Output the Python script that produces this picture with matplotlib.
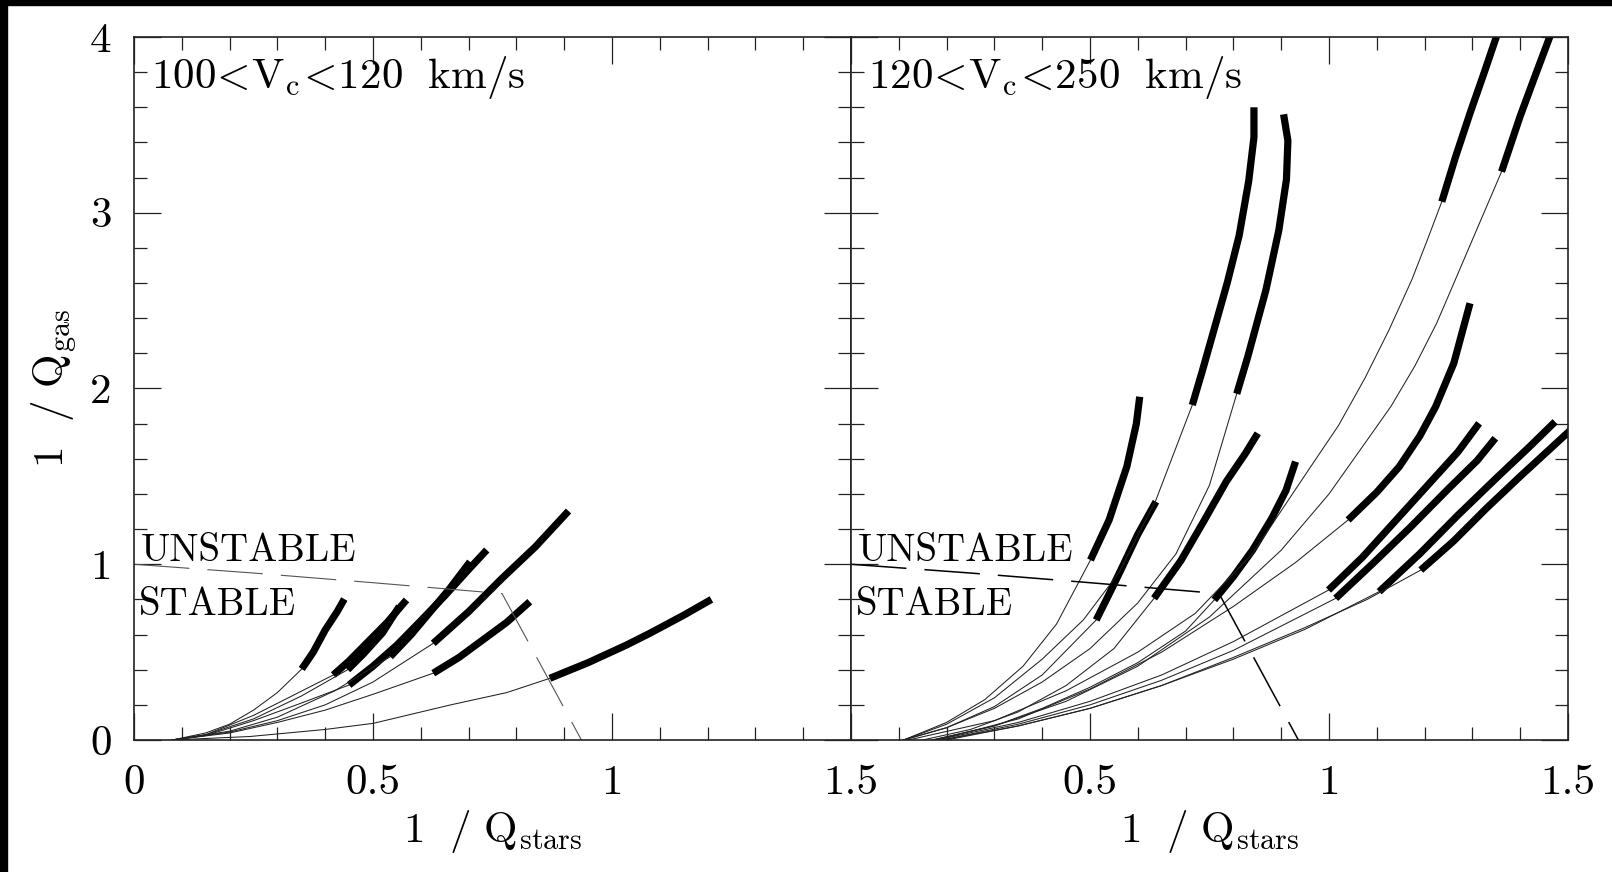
import matplotlib
matplotlib.use('Agg')
import matplotlib.pyplot as plt
from matplotlib.patches import Rectangle
from matplotlib.ticker import MultipleLocator, FixedLocator, FixedFormatter

plt.rcParams['mathtext.fontset'] = 'cm'
plt.rcParams['font.family'] = 'cmr10'
plt.rcParams['axes.formatter.use_mathtext'] = True

# ---- left panel: 100 < Vc < 120 km/s  (x = 1/Qstars, y = 1/Qgas); k = index where thick part starts
LA_x = [0.08, 0.15, 0.20, 0.25, 0.30, 0.351, 0.375, 0.40, 0.425, 0.44]
LA_y = [0.0, 0.04, 0.09, 0.17, 0.27, 0.404, 0.50, 0.626, 0.73, 0.802]
LA_k = 5
LB_x = [0.08, 0.15, 0.25, 0.33, 0.417, 0.45, 0.49, 0.53, 0.570]
LB_y = [0.0, 0.03, 0.14, 0.25, 0.370, 0.45, 0.56, 0.67, 0.797]
LB_k = 4
LC_x = [0.08, 0.15, 0.25, 0.35, 0.447, 0.48, 0.52, 0.555]
LC_y = [0.0, 0.03, 0.12, 0.25, 0.40, 0.49, 0.61, 0.76]
LC_k = 4
LD_x = [0.08, 0.15, 0.25, 0.35, 0.45, 0.50, 0.55, 0.598, 0.65, 0.70, 0.738]
LD_y = [0.0, 0.025, 0.11, 0.21, 0.313, 0.42, 0.54, 0.673, 0.82, 0.97, 1.081]
LD_k = 4
LE_x = [0.08, 0.2, 0.3, 0.42, 0.536, 0.58, 0.62, 0.66, 0.703]
LE_y = [0.0, 0.05, 0.13, 0.28, 0.474, 0.60, 0.73, 0.86, 1.014]
LE_k = 4
LG_x = [0.08, 0.2, 0.3, 0.4, 0.5, 0.626, 0.70, 0.77, 0.84, 0.909]
LG_y = [0.0, 0.045, 0.11, 0.20, 0.33, 0.550, 0.73, 0.92, 1.10, 1.303]
LG_k = 5
LH_x = [0.08, 0.2, 0.3, 0.4, 0.5, 0.626, 0.68, 0.73, 0.78, 0.828]
LH_y = [0.0, 0.04, 0.10, 0.17, 0.26, 0.380, 0.47, 0.57, 0.67, 0.787]
LH_k = 5
LI_x = [0.08, 0.243, 0.40, 0.501, 0.661, 0.78, 0.870, 0.95, 1.03, 1.079, 1.15, 1.208]
LI_y = [0.0, 0.02, 0.06, 0.095, 0.199, 0.27, 0.351, 0.44, 0.54, 0.607, 0.71, 0.80]
LI_k = 6

# ---- right panel: 120 < Vc < 250 km/s
R1_x = [0.11, 0.2, 0.28, 0.36, 0.43, 0.501, 0.540, 0.577, 0.597, 0.604]
R1_y = [0.0, 0.10, 0.23, 0.42, 0.66, 1.024, 1.252, 1.555, 1.80, 1.953]
R1_k = 5
R2_x = [0.11, 0.2, 0.3, 0.4, 0.513, 0.54, 0.565, 0.60, 0.638]
R2_y = [0.0, 0.07, 0.19, 0.37, 0.683, 0.83, 0.97, 1.17, 1.356]
R2_k = 4
R3_x = [0.11, 0.2, 0.3, 0.4, 0.486, 0.56, 0.638, 0.714, 0.735, 0.760, 0.787, 0.812, 0.832, 0.843, 0.843]
R3_y = [0.0, 0.09, 0.24, 0.46, 0.683, 0.95, 1.366, 1.906, 2.10, 2.34, 2.60, 2.87, 3.18, 3.43, 3.60]
R3_k = 7
R4_x = [0.11, 0.2, 0.3, 0.4, 0.5, 0.6, 0.68, 0.75, 0.807, 0.830, 0.868, 0.895, 0.911, 0.914, 0.905]
R4_y = [0.0, 0.07, 0.18, 0.33, 0.52, 0.78, 1.06, 1.45, 1.97, 2.18, 2.56, 2.90, 3.19, 3.41, 3.56]
R4_k = 8
R5_x = [0.15, 0.25, 0.35, 0.45, 0.55, 0.634, 0.69, 0.737, 0.785, 0.825, 0.851]
R5_y = [0.0, 0.06, 0.16, 0.31, 0.52, 0.806, 1.02, 1.24, 1.47, 1.63, 1.745]
R5_k = 5
R6_x = [0.17, 0.3, 0.4, 0.5, 0.6, 0.7, 0.760, 0.80, 0.84, 0.88, 0.91, 0.930]
R6_y = [0.0, 0.08, 0.18, 0.30, 0.44, 0.62, 0.797, 0.93, 1.08, 1.26, 1.42, 1.584]
R6_k = 6
R7_x = [0.12, 0.3, 0.45, 0.6, 0.72, 0.84, 0.957, 1.02, 1.075, 1.125, 1.173, 1.205, 1.236,
        1.265, 1.295, 1.325, 1.355]
R7_y = [0.0, 0.11, 0.28, 0.50, 0.72, 1.06, 1.536, 1.79, 2.058, 2.33, 2.617, 2.84, 3.063,
        3.32, 3.566, 3.80, 4.04]
R7_k = 12
R8_x = [0.17, 0.3, 0.45, 0.6, 0.75, 0.9, 1.0, 1.075, 1.13, 1.18, 1.225, 1.264, 1.31, 1.361,
        1.40, 1.43, 1.47]
R8_y = [0.0, 0.08, 0.22, 0.42, 0.70, 1.08, 1.40, 1.688, 1.90, 2.13, 2.37, 2.617, 2.91, 3.234,
        3.55, 3.77, 4.06]
R8_k = 13
R9_x = [0.18, 0.35, 0.5, 0.65, 0.8, 0.93, 1.040, 1.10, 1.147, 1.19, 1.223, 1.261, 1.295]
R9_y = [0.0, 0.12, 0.29, 0.50, 0.76, 1.01, 1.252, 1.41, 1.555, 1.73, 1.896, 2.143, 2.485]
R9_k = 6
R10_x = [0.18, 0.35, 0.5, 0.65, 0.8, 0.999, 1.07, 1.14, 1.21, 1.27, 1.314]
R10_y = [0.0, 0.10, 0.22, 0.37, 0.56, 0.853, 1.04, 1.25, 1.46, 1.64, 1.802]
R10_k = 5
R11_x = [0.19, 0.35, 0.5, 0.65, 0.8, 1.014, 1.09, 1.17, 1.25, 1.31, 1.348]
R11_y = [0.0, 0.09, 0.20, 0.34, 0.51, 0.806, 1.00, 1.21, 1.43, 1.59, 1.717]
R11_k = 5
R12_x = [0.19, 0.35, 0.5, 0.65, 0.8, 0.95, 1.105, 1.19, 1.27, 1.35, 1.42, 1.473]
R12_y = [0.0, 0.08, 0.18, 0.31, 0.46, 0.63, 0.844, 1.06, 1.28, 1.49, 1.67, 1.811]
R12_k = 6
R13_x = [0.20, 0.35, 0.5, 0.65, 0.8, 0.95, 1.08, 1.192, 1.26, 1.33, 1.40, 1.46, 1.52]
R13_y = [0.0, 0.08, 0.18, 0.31, 0.47, 0.64, 0.80, 0.967, 1.13, 1.32, 1.50, 1.65, 1.80]
R13_k = 7

# stability boundary (same in both panels)
bnd_x = [0.0, 0.25, 0.5, 0.77, 0.936]
bnd_y = [1.0, 0.95, 0.895, 0.833, 0.0]

left_tracks = [(LA_x, LA_y, LA_k), (LB_x, LB_y, LB_k), (LC_x, LC_y, LC_k), (LD_x, LD_y, LD_k),
               (LE_x, LE_y, LE_k), (LG_x, LG_y, LG_k), (LH_x, LH_y, LH_k), (LI_x, LI_y, LI_k)]
right_tracks = [(R1_x, R1_y, R1_k), (R2_x, R2_y, R2_k), (R3_x, R3_y, R3_k), (R4_x, R4_y, R4_k),
                (R5_x, R5_y, R5_k), (R6_x, R6_y, R6_k), (R7_x, R7_y, R7_k), (R8_x, R8_y, R8_k),
                (R9_x, R9_y, R9_k), (R10_x, R10_y, R10_k), (R11_x, R11_y, R11_k),
                (R12_x, R12_y, R12_k), (R13_x, R13_y, R13_k)]

W, H = 1612, 872
fig = plt.figure(figsize=(W / 100, H / 100), dpi=100)
ax1 = fig.add_axes([134 / W, 1 - 740 / H, 717 / W, 703 / H])
ax2 = fig.add_axes([851 / W, 1 - 740 / H, 717 / W, 703 / H])

# black scan borders of the original image
fig.patches.append(Rectangle((0, 0), 7 / W, 1, transform=fig.transFigure, color='black', zorder=0))
fig.patches.append(Rectangle((0, 1 - 5 / H), 1, 5 / H, transform=fig.transFigure, color='black', zorder=0))


def draw(ax, tracks, dash_col, dash_lw):
    for x, y, k in tracks:
        ax.plot(x[:k + 1], y[:k + 1], color='#222222', lw=0.75)
        ax.plot(x[k:], y[k:], color='black', lw=5.2, solid_capstyle='butt', solid_joinstyle='round')
    ln, = ax.plot(bnd_x, bnd_y, color=dash_col, lw=dash_lw)
    ln.set_dashes([40 / dash_lw, 13 / dash_lw])
    ax.set_xlim(0, 1.5)
    ax.set_ylim(0, 4)
    ax.xaxis.set_major_locator(MultipleLocator(0.5))
    ax.xaxis.set_minor_locator(MultipleLocator(0.1))
    ax.yaxis.set_major_locator(MultipleLocator(1))
    ax.yaxis.set_minor_locator(MultipleLocator(0.2))
    ax.tick_params(which='both', direction='in', top=True, right=True, width=0.9, colors='#222222',
                   labelsize=31, labelcolor='black')
    ax.tick_params(which='major', length=19.5)
    ax.tick_params(which='minor', length=9.5)
    ax.tick_params(axis='x', pad=18)
    ax.tick_params(axis='y', pad=16)
    for s in ax.spines.values():
        s.set_linewidth(1.2)
        s.set_color('#222222')
    ax.text(0.014, 1.02, 'UNSTABLE', fontsize=28, fontfamily='cmr10')
    ax.text(0.010, 0.711, 'STABLE', fontsize=28, fontfamily='cmr10')
    ax.set_xlabel(r'$1\ \ /\ \mathrm{Q}_{\rm stars}$', fontsize=31, labelpad=4)


draw(ax1, left_tracks, '#555555', 0.8)
draw(ax2, right_tracks, 'black', 1.1)

ax1.xaxis.set_major_formatter(FixedFormatter(['0', '0.5', '1', '1.5']))
ax1.xaxis.set_major_locator(FixedLocator([0, 0.5, 1, 1.5]))
ax1.yaxis.set_major_formatter(FixedFormatter(['0', '1', '2', '3', '4']))
ax1.yaxis.set_major_locator(FixedLocator([0, 1, 2, 3, 4]))
ax2.xaxis.set_major_locator(FixedLocator([0, 0.5, 1, 1.5]))
ax2.xaxis.set_major_formatter(FixedFormatter(['', '0.5', '1', '1.5']))
ax2.tick_params(axis='y', labelleft=False)

ax1.set_ylabel(r'$1\ \ /\ \mathrm{Q}_{\rm gas}$', fontsize=31, labelpad=8)

ax1.text(0.035, 3.71, r'$\mathrm{100}\!<\!\mathrm{V_c}\!<\!\mathrm{120\ \ km/s}$', fontsize=31)
ax2.text(0.035, 3.71, r'$\mathrm{120}\!<\!\mathrm{V_c}\!<\!\mathrm{250\ \ km/s}$', fontsize=31)

fig.savefig('out.png', dpi=100)
